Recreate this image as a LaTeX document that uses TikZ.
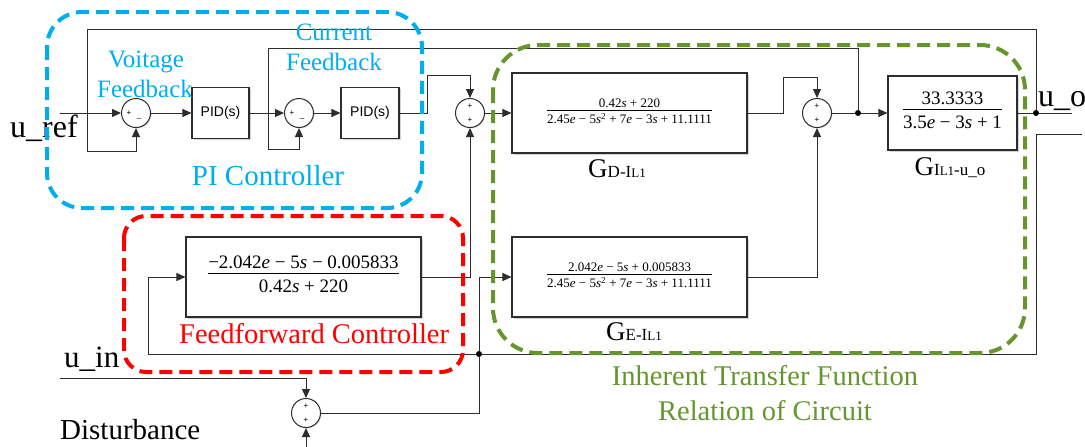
\documentclass[tikz,border=0pt]{standalone}
\usepackage{fontspec}
\setmainfont{Liberation Serif}
\newfontfamily\arialf{Liberation Sans}
\usetikzlibrary{arrows.meta,calc,shadows}
\definecolor{cblue}{RGB}{0,174,239}
\definecolor{cred}{RGB}{255,0,0}
\definecolor{cgreen}{RGB}{100,150,45}
\definecolor{cline}{RGB}{45,45,45}
\newcommand{\fs}[1]{\fontsize{#1}{#1}\selectfont}
\newcommand{\myfrac}[2]{\begin{tabular}{@{}c@{}}#1\\[-1pt]\hline\rule{0pt}{1.0em}#2\end{tabular}}
\newcommand{\vs}{\textit{s}}
\newcommand{\ve}{\textit{e}}
\begin{document}
\begin{tikzpicture}[x=1pt,y=-1pt,
  wire/.style={draw=cline, line width=1pt},
  arr/.style={wire,-{Triangle[length=9pt,width=8pt]}},
  tfbox/.style={draw=cline, line width=1.1pt, fill=white, inner sep=0pt,
    drop shadow={shadow xshift=1.5pt,shadow yshift=-1.5pt,opacity=0.35}},
  pidbox/.style={tfbox, font=\arialf\fs{14}},
  sumc/.style={circle, draw=cline, line width=1pt, fill=white, minimum size=29pt, inner sep=0pt,
    drop shadow={shadow xshift=1pt,shadow yshift=-1pt,opacity=0.3}},
  sgn/.style={inner sep=0pt, font=\arialf\fs{8}},
  jdot/.style={circle, fill=black, minimum size=6pt, inner sep=0pt},
  grp/.style={line width=4pt, dash pattern=on 13pt off 7pt},
  lbl/.style={inner sep=0pt, anchor=base},
]
\useasboundingbox (0,0) rectangle (1085,447);

% blocks
\node[sumc] (s1) at (136,113) {};
\node[sumc] (s2) at (299,113) {};
\node[sumc] (s3) at (470,113) {};
\node[sumc] (s4) at (817,113) {};
\node[sumc] (s5) at (306,413) {};
\node[pidbox, minimum width=57pt, minimum height=51pt] (pid1) at (220.5,113) {PID(s)};
\node[pidbox, minimum width=58pt, minimum height=51pt] (pid2) at (370,113) {PID(s)};
\node[tfbox, minimum width=235pt, minimum height=80pt, font=\fs{13}] (gd) at (629.5,113)
  {\myfrac{0.42\vs{} + 220}{2.45\ve{} − 5\vs\textsuperscript{2} + 7\ve{} − 3\vs{} + 11.1111}};
\node[tfbox, minimum width=235pt, minimum height=80pt, font=\fs{13}] (ge) at (629.5,277)
  {\myfrac{2.042\ve{} − 5\vs{} + 0.005833}{2.45\ve{} − 5\vs\textsuperscript{2} + 7\ve{} − 3\vs{} + 11.1111}};
\node[tfbox, minimum width=235pt, minimum height=80pt, font=\fs{19}] (ff) at (303.5,277)
  {\myfrac{−2.042\ve{} − 5\vs{} − 0.005833}{0.42\vs{} + 220}};
\node[tfbox, minimum width=129pt, minimum height=74pt, font=\fs{19}] (gil) at (952.5,113)
  {\myfrac{33.3333}{3.5\ve{} − 3\vs{} + 1}};

% signs
\node[sgn] (p1) at ($(s1)+(-7,0)$) {+};
\node[sgn] (m1) at ($(s1)+(3,5)$) {\_};
\node[sgn] (p2) at ($(s2)+(-7,0)$) {+};
\node[sgn] (m2) at ($(s2)+(3,5)$) {\_};
\node[sgn] (p3a) at ($(s3)+(0,-7)$) {+};
\node[sgn] (p3b) at ($(s3)+(0,7)$) {+};
\node[sgn] (p4a) at ($(s4)+(0,-7)$) {+};
\node[sgn] (p4b) at ($(s4)+(0,7)$) {+};
\node[sgn] (p5a) at ($(s5)+(0,-7)$) {+};
\node[sgn] (p5b) at ($(s5)+(0,7)$) {+};

% junctions and free ends
\node[jdot] (j1) at (858,113) {};
\node[jdot] (uo) at (1036,113) {};
\node[jdot] (j2) at (479,354) {};
\coordinate (uref) at (60,113);
\coordinate (uoend) at (1072,113);
\coordinate (rin) at (1082,134);
\coordinate (uin) at (60,378);
\coordinate (dist) at (306,447);

% connectors
\draw[arr] (uref) -- (s1.west);
\draw[arr] (uo) -- (1036,29) -| (87,151) -| (s1.south);
\draw[arr] (s1.east) -- (pid1.west);
\draw[arr] (pid1.east) -- (s2.west);
\draw[arr] (j1) -- (858,48) -| (268,149) -| (s2.south);
\draw[arr] (s2.east) -- (pid2.west);
\draw[arr] (pid2.east) -- (427,113) |- (470,75) -- (s3.north);
\draw[arr] (ff.east) -| (s3.south);
\draw[arr] (s3.east) -- (gd.west);
\draw[arr] (gd.east) -- (783,113) |- (817,77) -- (s4.north);
\draw[arr] (ge.east) -| (s4.south);
\draw[wire] (s4.east) -- (j1);
\draw[arr] (j1) -- (gil.west);
\draw[wire] (gil.east) -- (uo) -- (uoend);
\draw[wire] (rin) -- (1036,134) |- (j2);
\draw[arr] (j2) |- (ge.west);
\draw[arr] (j2) -- (148,354) |- (ff.west);
\draw[wire] (s5.east) -| (j2);
\draw[arr] (uin) -| (s5.north);
\draw[arr] (dist) -- (s5.south);

% labels
\node[lbl, anchor=base west, font=\fs{32}] (turef) at (10,137) {u\_ref};
\node[lbl, anchor=base west, font=\fs{31}] (tuin) at (64,367) {u\_in};
\node[lbl, anchor=base west, font=\fs{29}] (tdist) at (60,439) {Disturbance};
\node[lbl, anchor=base west, font=\fs{32}] (tuo) at (1038,106) {u\_o};
\node[lbl, text=cblue, font=\fs{25}] (tv1) at (146,67) {Voitage};
\node[lbl, text=cblue, font=\fs{25}] (tv2) at (145,97) {Feedback};
\node[lbl, text=cblue, font=\fs{25}] (tc1) at (334,40) {Current};
\node[lbl, text=cblue, font=\fs{25}] (tc2) at (334,70) {Feedback};
\node[lbl, text=cblue, font=\fs{29}] (tpi) at (268,185) {PI Controller};
\node[lbl, anchor=base west, text=cred, font=\fs{28.5}] (tff) at (179,343) {Feedforward Controller};
\node[lbl, text=cgreen, font=\fs{28.5}] (tin1) at (765,385) {Inherent Transfer Function};
\node[lbl, text=cgreen, font=\fs{28.5}] (tin2) at (765,420) {Relation of Circuit};
\node[lbl] (tgd) at (617,177) {{\fs{27}G}{\fs{17}D-I}{\fs{13}L1}};
\node[lbl] (tge) at (634,340) {{\fs{27}G}{\fs{17}E-I}{\fs{13}L1}};
\node[lbl] (tgil) at (950,175) {{\fs{27}G}{\fs{17}I}{\fs{13}L1}{\fs{17}-u\_o}};

% dashed groups
\draw[grp, cblue, rounded corners=35pt] (47,12) rectangle (422,208);
\draw[grp, cred, rounded corners=22pt] (124,216) rectangle (463,372);
\draw[grp, cgreen, rounded corners=45pt] (493,45) rectangle (1025,353);
\end{tikzpicture}
\end{document}
